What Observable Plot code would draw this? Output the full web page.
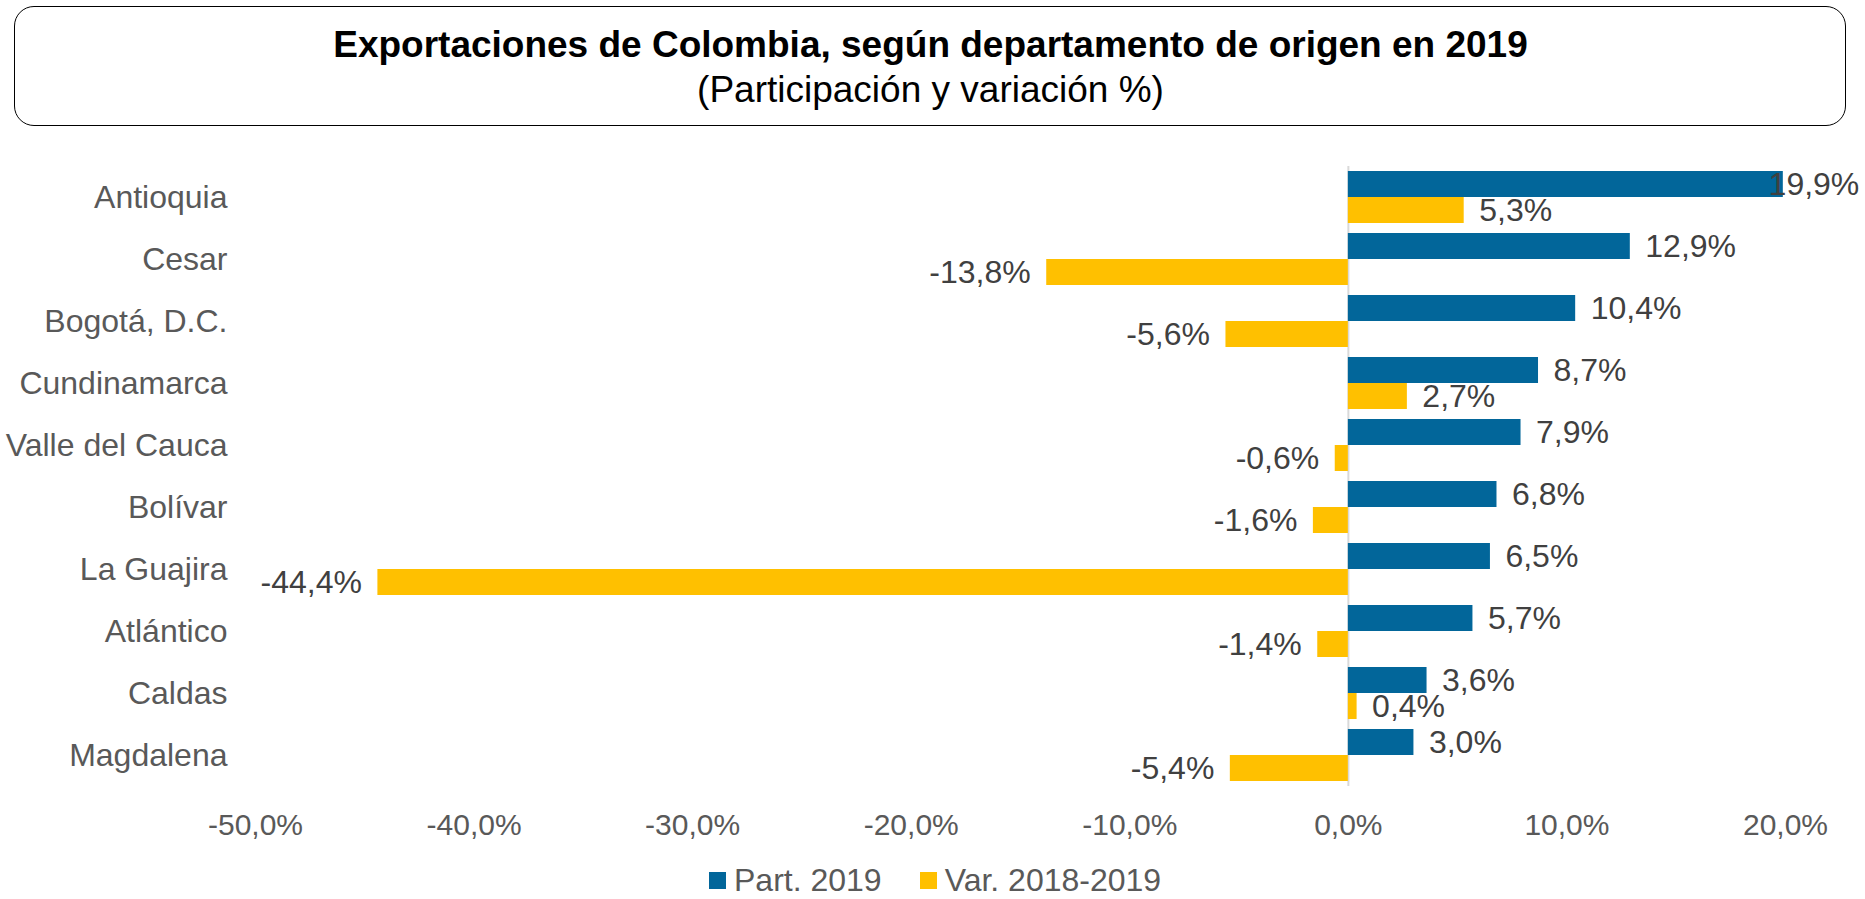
<!DOCTYPE html>
<html>
<head>
<meta charset="utf-8">
<script src="https://cdn.jsdelivr.net/npm/d3@7"></script>
<script src="https://cdn.jsdelivr.net/npm/@observablehq/plot@0.6"></script>
<style>
  html, body { margin: 0; padding: 0; background: #fff; width: 1865px; height: 899px; overflow: hidden; }
  body { position: relative; font-family: "Liberation Sans", Arial, sans-serif; }
  #box { position: absolute; left: 14px; top: 6px; width: 1832px; height: 120px; box-sizing: border-box;
         border: 1.5px solid #000; border-radius: 20px; }
  #title { position: absolute; left: 0; width: 1861px; top: 26px; text-align: center; font-size: 37px;
           font-weight: bold; line-height: 37px; color: #000; }
  #subtitle { position: absolute; left: 0; width: 1861px; top: 71px; text-align: center; font-size: 37px;
              line-height: 37px; color: #000; }
  #chart { position: absolute; left: 0; top: 130px; }
  #legend { position: absolute; left: 709px; top: 867px; display: flex; align-items: center;
            font-size: 32px; line-height: 26px; color: #595959; }
  .sw { display: inline-block; width: 17px; height: 17px; margin-right: 8px; }
  .item { display: flex; align-items: center; margin-right: 38px; }
</style>
</head>
<body>
<div id="box"></div>
<div id="title">Exportaciones de Colombia, según departamento de origen en 2019</div>
<div id="subtitle">(Participación y variación %)</div>
<div id="chart"></div>
<div id="legend"></div>
<script>
const categories = ["Antioquia", "Cesar", "Bogotá, D.C.", "Cundinamarca", "Valle del Cauca", "Bolívar", "La Guajira", "Atlántico", "Caldas", "Magdalena"];
const part2019 = [19.9, 12.9, 10.4, 8.7, 7.9, 6.8, 6.5, 5.7, 3.6, 3.0];
const var20182019 = [5.3, -13.8, -5.6, 2.7, -0.6, -1.6, -44.4, -1.4, 0.4, -5.4];
const seriesNames = ["Part. 2019", "Var. 2018-2019"];
const seriesColors = ["#02669A", "#FFC000"];
const xTicks = [-50, -40, -30, -20, -10, 0, 10, 20];

const data = [];
categories.forEach((c, i) => {
  data.push({category: c, series: seriesNames[0], value: part2019[i]});
  data.push({category: c, series: seriesNames[1], value: var20182019[i]});
});

const fmt = v => v.toFixed(1).replace(".", ",") + "%";

const chart = Plot.plot({
  width: 1865,
  height: 730,
  marginLeft: 255,
  marginRight: 80,
  marginTop: 36,
  marginBottom: 74,
  style: {fontFamily: "'Liberation Sans', Arial, sans-serif", background: "transparent"},
  x: {domain: [-50, 20]},
  y: {domain: seriesNames, axis: null, paddingInner: 0, paddingOuter: 0.19},
  fy: {domain: categories, padding: 0},
  color: {domain: seriesNames, range: seriesColors},
  marks: [
    Plot.ruleX([0], {stroke: "#d9d9d9", strokeWidth: 2}),
    Plot.barX(data, {x: "value", y: "series", fy: "category", fill: "series"}),
    Plot.text(data.filter(d => d.value >= 0 && d.value < 19), {
      x: "value", y: "series", fy: "category", text: d => fmt(d.value),
      textAnchor: "start", dx: 15, fontSize: 32, fill: "#404040"
    }),
    Plot.text(data.filter(d => d.value >= 19), {
      x: "value", y: "series", fy: "category", text: d => fmt(d.value),
      textAnchor: "end", dx: 76, fontSize: 32, fill: "#404040"
    }),
    Plot.text(data.filter(d => d.value < 0), {
      x: "value", y: "series", fy: "category", text: d => fmt(d.value),
      textAnchor: "end", dx: -16, fontSize: 32, fill: "#404040"
    }),
    Plot.axisX({ticks: xTicks, tickFormat: fmt, tickSize: 0, tickPadding: 27, fontSize: 30, color: "#595959", label: null}),
    Plot.axisFy({anchor: "left", tickSize: 0, tickPadding: 28, fontSize: 32, color: "#595959", label: null})
  ]
});
document.getElementById("chart").appendChild(chart);

const legend = document.getElementById("legend");
seriesNames.forEach((s, i) => {
  const item = document.createElement("div");
  item.className = "item";
  const sw = document.createElement("span");
  sw.className = "sw";
  sw.style.background = seriesColors[i];
  const t = document.createElement("span");
  t.textContent = s;
  item.appendChild(sw);
  item.appendChild(t);
  legend.appendChild(item);
});
</script>
</body>
</html>
